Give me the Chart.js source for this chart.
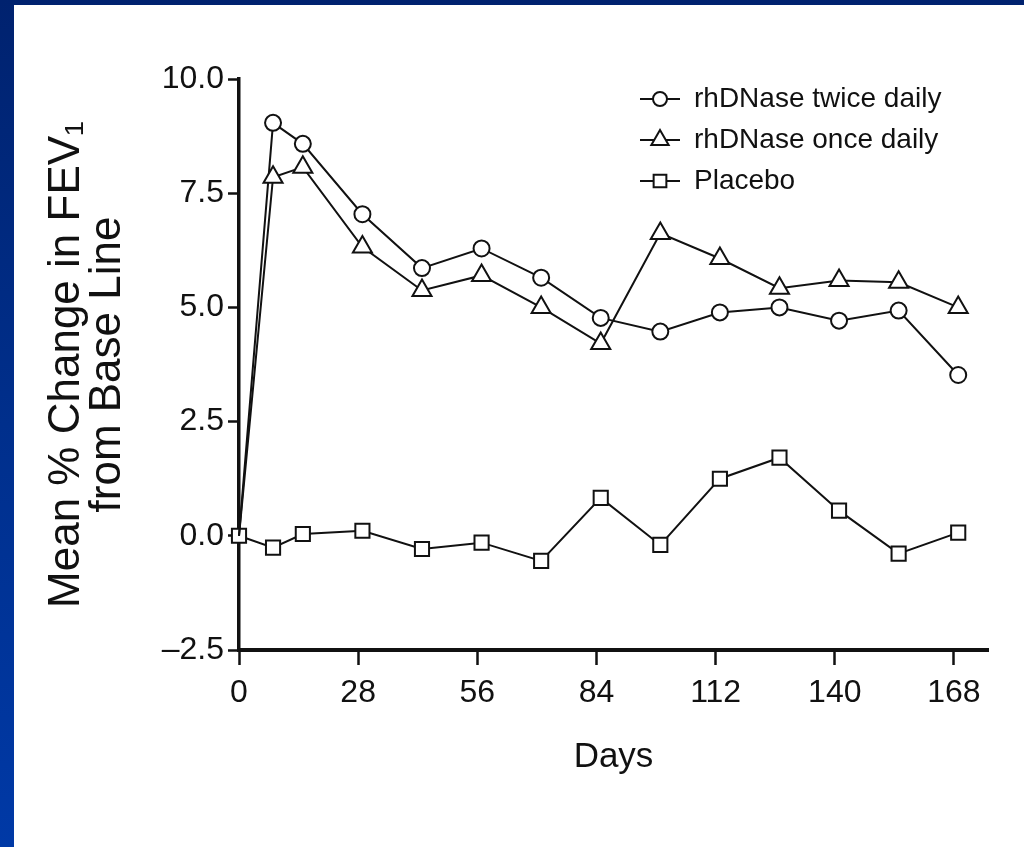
<!DOCTYPE html>
<html>
<head>
<meta charset="utf-8">
<script src="https://cdn.jsdelivr.net/npm/chart.js@4.4.1/dist/chart.umd.min.js"></script>
<style>
  html, body {
    margin: 0; padding: 0; width: 1024px; height: 847px; overflow: hidden;
    background: linear-gradient(180deg, #00226f 0%, #002f8c 50%, #0039a6 100%);
  }
  #panel { position: absolute; left: 14px; top: 5px; width: 1010px; height: 842px; background: #ffffff; }
  canvas { display: block; }
</style>
</head>
<body>
<div id="panel"><canvas id="fev" width="1010" height="842"></canvas></div>
<script>
// Study days of each visit
const days = [0, 8, 15, 29, 43, 57, 71, 85, 99, 113, 127, 141, 155, 169];

// Mean % change in FEV1 from base line
const twiceDaily = [0, 9.04, 8.58, 7.04, 5.86, 6.29, 5.65, 4.77, 4.47, 4.89, 5.00, 4.71, 4.93, 3.52];
const onceDaily  = [0, 7.85, 8.07, 6.32, 5.37, 5.70, 5.00, 4.21, 6.62, 6.07, 5.42, 5.59, 5.55, 5.00];
const placebo    = [0, -0.26, 0.04, 0.11, -0.29, -0.15, -0.55, 0.83, -0.20, 1.25, 1.71, 0.55, -0.39, 0.07];

const seriesNames = ['rhDNase twice daily', 'rhDNase once daily', 'Placebo'];

// Axis ticks
const xTicks = [0, 28, 56, 84, 112, 140, 168];
const yTicks = [-2.5, 0, 2.5, 5, 7.5, 10];
const yTickLabels = ['\u20132.5', '0.0', '2.5', '5.0', '7.5', '10.0'];

const INK = '#111111';
Chart.defaults.font.family = "'Liberation Sans', Arial, 'DejaVu Sans', sans-serif";
Chart.defaults.color = INK;

const points = (vals) => days.map((d, i) => ({ x: d, y: vals[i] }));

// Small "line through marker" glyph used by the legend
function legendGlyph(style, radius) {
  const c = document.createElement('canvas');
  c.width = 42; c.height = 24;
  const g = c.getContext('2d');
  g.strokeStyle = INK; g.lineWidth = 2;
  g.beginPath(); g.moveTo(1, 12); g.lineTo(41, 12); g.stroke();
  g.fillStyle = '#ffffff';
  Chart.helpers.drawPoint(g, { pointStyle: style, radius: radius, borderWidth: 2, rotation: 0 }, 21, 12);
  return c;
}

// Keeps the legend from taking layout space and places it inside the plot
const legendInPlot = {
  id: 'legendInPlot',
  beforeLayout(chart) {
    const lg = chart.legend;
    if (lg && !lg.__inPlot) {
      const fit = lg.fit;
      lg.fit = function () { fit.call(this); this.width = 0; this.height = 0; };
      lg.__inPlot = true;
    }
  },
  afterLayout(chart, args, opts) {
    const lg = chart.legend;
    if (!lg) return;
    lg.left = opts.left; lg.top = opts.top;
    lg.right = opts.left + 420; lg.bottom = opts.top + 200;
  }
};

const hideFirst = (r) => (ctx) => (ctx.dataIndex === 0 ? 0 : r);

const common = {
  borderColor: INK, borderWidth: 2, tension: 0,
  pointBackgroundColor: '#ffffff', pointBorderColor: INK, pointBorderWidth: 2,
  backgroundColor: '#ffffff', clip: false, showLine: true
};

new Chart(document.getElementById('fev'), {
  type: 'line',
  data: {
    datasets: [
      Object.assign({ label: seriesNames[1], data: points(onceDaily), pointStyle: 'triangle',
        pointRadius: hideFirst(11), legendRadius: 10 }, common),
      Object.assign({ label: seriesNames[0], data: points(twiceDaily), pointStyle: 'circle',
        pointRadius: hideFirst(8), legendRadius: 7 }, common),
      Object.assign({ label: seriesNames[2], data: points(placebo), pointStyle: 'rect',
        pointRadius: 10, legendRadius: 9 }, common)
    ]
  },
  options: {
    responsive: false,
    animation: false,
    devicePixelRatio: 1,
    layout: { padding: { left: 0, top: 74, right: 36, bottom: 65 } },
    scales: {
      x: {
        type: 'linear', min: 0, max: 176,
        afterBuildTicks: (s) => { s.ticks = xTicks.map((v) => ({ value: v })); },
        afterFit: (s) => { s.height = 132; },
        ticks: { autoSkip: false, maxRotation: 0, padding: 9, font: { size: 32 }, color: INK,
          callback: (v) => String(v) },
        grid: { drawOnChartArea: false, drawTicks: true, tickLength: 15, tickWidth: 2.5, tickColor: INK, color: INK },
        border: { display: true, color: INK, width: 4 },
        title: { display: true, text: 'Days', color: INK, font: { size: 35 },
          padding: { top: 0, bottom: 4 } }
      },
      y: {
        type: 'linear', min: -2.5, max: 10,
        afterBuildTicks: (s) => { s.ticks = yTicks.map((v) => ({ value: v })); },
        afterFit: (s) => { s.width = 225; },
        ticks: { autoSkip: false, padding: 4, font: { size: 32 }, color: INK,
          callback: (v, i) => yTickLabels[i] },
        grid: { drawOnChartArea: false, drawTicks: true, tickLength: 11, tickWidth: 2.5, tickColor: INK, color: INK },
        border: { display: true, color: INK, width: 3.5 },
        title: { display: true, text: ['Mean % Change in FEV\u2081', 'from Base Line'], color: INK,
          font: { size: 44, lineHeight: '41px' }, padding: { top: 32, bottom: 0 } }
      }
    },
    plugins: {
      tooltip: { enabled: false },
      legendInPlot: { left: 613, top: 67 },
      legend: {
        display: true,
        position: 'right',
        align: 'start',
        labels: {
          usePointStyle: true,
          pointStyleWidth: 40,
          padding: 13,
          color: INK,
          font: { size: 28 },
          generateLabels: (chart) => {
            const order = [1, 0, 2];
            return order.map((i) => {
              const ds = chart.data.datasets[i];
              return {
                text: ds.label, datasetIndex: i, hidden: false, lineWidth: 0,
                fillStyle: '#ffffff', strokeStyle: INK, fontColor: INK,
                pointStyle: legendGlyph(ds.pointStyle, ds.legendRadius)
              };
            });
          }
        }
      }
    }
  },
  plugins: [legendInPlot]
});
</script>
</body>
</html>
